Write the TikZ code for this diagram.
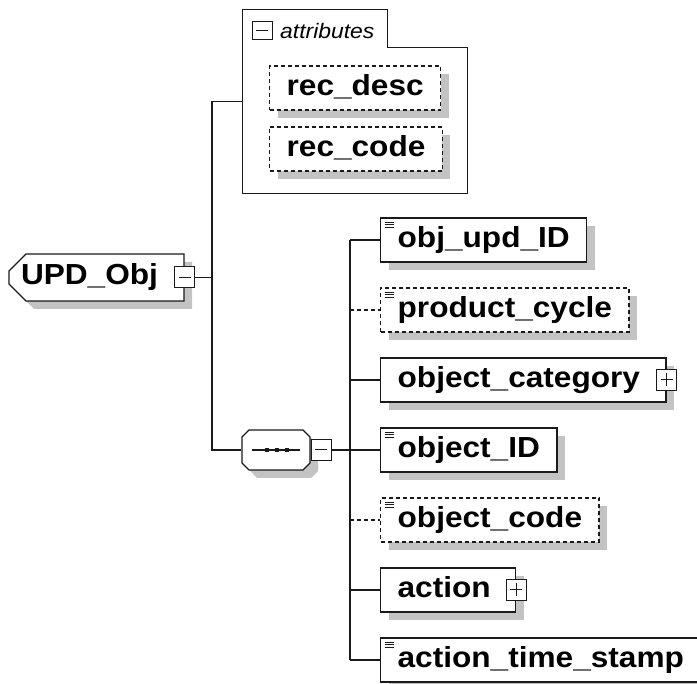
\documentclass[tikz,border=0pt]{standalone}
\usepackage{fontspec}
\usepackage{xcolor}
\usetikzlibrary{shapes.misc, shadows, positioning, calc}
\newfontfamily\xsdfont{Liberation Sans}[FakeStretch=1.09]
\definecolor{XsdLine}{HTML}{1A1A1A}
\definecolor{XsdShadow}{HTML}{C3C3C3}
\definecolor{XsdWhite}{HTML}{FFFFFF}
\tikzset{
    % Element boxes
    element/.style={
        rectangle,
        draw=XsdLine,
        fill=XsdWhite,
        line width=1.3pt,
        minimum height=44pt,
        inner xsep=17pt,
        text height=21pt,
        text depth=6pt,
        anchor=west,
        font=\xsdfont\bfseries\fontsize{29}{34}\selectfont,
        drop shadow={shadow xshift=8pt, shadow yshift=-8pt, fill=XsdShadow, opacity=1}
    },
    optional/.style={
        element,
        dash pattern=on 4pt off 3pt
    },
    simple/.style={
        path picture={
            \foreach \k in {0,1,2}
                \draw[solid, line width=0.8pt, XsdLine] ([shift={(4pt,-4pt-2.6pt*\k)}]path picture bounding box.north west) -- ++(9pt,0);
        }
    },
    % Root and compositor shapes
    root/.style={
        chamfered rectangle,
        chamfered rectangle corners={north west, south west},
        chamfered rectangle xsep=9pt,
        chamfered rectangle ysep=8pt,
        draw=XsdLine,
        fill=XsdWhite,
        line width=1.3pt,
        minimum width=175pt,
        minimum height=47pt,
        inner sep=0pt,
        font=\xsdfont\bfseries\fontsize{29}{34}\selectfont,
        drop shadow={shadow xshift=8pt, shadow yshift=-8pt, fill=XsdShadow, opacity=1}
    },
    sequence/.style={
        chamfered rectangle,
        chamfered rectangle corners=chamfer all,
        chamfered rectangle xsep=7pt,
        chamfered rectangle ysep=7pt,
        draw=XsdLine,
        fill=XsdWhite,
        line width=1.3pt,
        minimum width=68pt,
        minimum height=40pt,
        text height=13pt,
        text depth=13pt,
        inner sep=0pt,
        drop shadow={shadow xshift=8pt, shadow yshift=-8pt, fill=XsdShadow, opacity=1}
    },
    attrgroup/.style={
        rectangle,
        minimum width=224pt,
        minimum height=183pt,
        inner sep=0pt
    },
    % Expand / collapse boxes
    toggle/.style={
        rectangle,
        draw=XsdLine,
        fill=XsdWhite,
        line width=1pt,
        minimum width=20pt,
        minimum height=21pt,
        inner sep=0pt
    },
    minus/.style={
        toggle,
        path picture={
            \draw[line width=1pt, XsdLine] ([xshift=4pt]path picture bounding box.west) -- ([xshift=-4pt]path picture bounding box.east);
        }
    },
    plus/.style={
        toggle,
        path picture={
            \draw[line width=1pt, XsdLine] ([xshift=4pt]path picture bounding box.west) -- ([xshift=-4pt]path picture bounding box.east);
            \draw[line width=1pt, XsdLine] ([yshift=4pt]path picture bounding box.south) -- ([yshift=-4pt]path picture bounding box.north);
        }
    },
    % Connector styles
    conn/.style={
        line width=1.3pt,
        draw=XsdLine
    },
    optconn/.style={
        conn,
        dash pattern=on 4pt off 3pt
    }
}
\begin{document}
\begin{tikzpicture}[x=1pt, y=1pt]
    \useasboundingbox (0,0) rectangle (697,-684);

    % Root element
    \node[root] (upd) at (96.5,-277.5) {UPD\_Obj\hspace*{14pt}};
    \node[minus] (updtoggle) at (upd.east) {};

    % Attribute group
    \node[attrgroup] (attrs) at (355,-101.5) {};
    \draw[conn] (attrs.south west) -- (attrs.north west) -- ++(145,0) -- ++(0,-38) -| (attrs.south east) -- cycle;
    \node[minus, minimum height=18pt] (attrtoggle) at (262,-31) {};
    \node[anchor=west, inner sep=0pt, font=\xsdfont\itshape\fontsize{21}{24}\selectfont] (attrlabel) at (280,-31) {attributes};
    \node[optional] (recdesc) at (269,-88) {rec\_desc};
    \node[optional] (reccode) at (269,-149) {rec\_code};

    % Sequence compositor
    \node[sequence] (seq) at (276,-450) {};
    \draw[conn] ([xshift=-24pt]seq.center) -- ([xshift=24pt]seq.center);
    \foreach \dx in {-9,1,11}
        \fill[XsdLine] ([xshift=\dx pt]seq.center) +(-2pt,-2pt) rectangle +(2pt,2pt);
    \node[minus, anchor=west] (seqtoggle) at (seq.east) {};

    % Child elements
    \node[element, simple] (objupd) at (380,-240) {obj\_upd\_ID};
    \node[optional, simple] (prodcycle) at (380,-310) {product\_cycle};
    \node[element] (objcat) at (380,-380) {object\_category\hspace*{9pt}};
    \node[plus] (objcattoggle) at (objcat.east) {};
    \node[element, simple] (objid) at (380,-450) {object\_ID};
    \node[optional, simple] (objcode) at (380,-520) {object\_code};
    \node[element] (action) at (380,-590) {action\hspace*{8pt}};
    \node[plus] (actiontoggle) at (action.east) {};
    \node[element, simple] (actstamp) at (380,-660) {action\_time\_stamp};

    % Connectors
    \coordinate (trunk) at (212,-277.5);
    \coordinate (bus) at (350,-450);
    \draw[conn] (updtoggle.east) -- (trunk);
    \draw[conn] (attrs.west) -| (trunk) |- (seq.west);
    \draw[conn] (seqtoggle.east) -- (bus);
    \draw[conn] (bus |- objupd.west) -- (bus |- actstamp.west);
    \foreach \n in {objupd, objcat, objid, action, actstamp}
        \draw[conn] (bus |- \n.west) -- (\n.west);
    \foreach \n in {prodcycle, objcode}
        \draw[optconn] (bus |- \n.west) -- (\n.west);
\end{tikzpicture}
\end{document}
